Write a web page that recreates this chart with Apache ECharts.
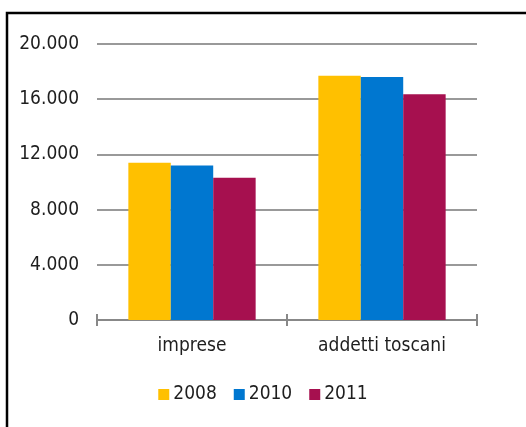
<!DOCTYPE html>
<html>
<head>
<meta charset="utf-8">
<script src="https://cdn.jsdelivr.net/npm/echarts@6/dist/echarts.min.js"></script>
<style>
  html, body { margin: 0; padding: 0; background: #fff; }
  #chart { width: 526px; height: 427px; }
</style>
</head>
<body>
<div id="chart"></div>
<script>
var categories = ['imprese', 'addetti toscani'];
var years = ['2008', '2010', '2011'];
var values2008 = [11400, 17700];
var values2010 = [11200, 17600];
var values2011 = [10300, 16350];
var colors = ['#FFC000', '#0077D0', '#A6104F'];

var font = '"DejaVu Sans Condensed", "Liberation Sans Narrow", "Liberation Sans", sans-serif';

function fmt(v) {
  return String(v).replace(/\B(?=(\d{3})+(?!\d))/g, '.');
}

var chart = echarts.init(document.getElementById('chart'));
var option = {
  animation: false,
  color: colors,
  textStyle: { fontFamily: font },
  graphic: [{
    type: 'rect',
    shape: { x: 7, y: 13, width: 700, height: 700 },
    style: { fill: 'none', stroke: '#000', lineWidth: 2.5 },
    silent: true
  }],
  grid: { left: 97, right: 49, top: 44, bottom: 107 },
  legend: {
    data: years,
    left: 'center',
    top: 380,
    icon: 'rect',
    itemWidth: 11,
    itemHeight: 11,
    itemGap: 17,
    textStyle: { fontFamily: font, fontSize: 19, color: '#1e1e1e', padding: [0, 0, 0, -1] }
  },
  xAxis: [{
    type: 'category',
    data: categories,
    axisLine: { lineStyle: { color: '#888', width: 2 } },
    axisTick: { show: true, length: 6, lineStyle: { color: '#888', width: 2 } },
    axisLabel: { fontFamily: font, fontSize: 19, color: '#1e1e1e', margin: 17 }
  }, {
    type: 'category',
    data: categories,
    position: 'bottom',
    axisLine: { show: false },
    axisTick: { show: true, inside: true, length: 6, lineStyle: { color: '#888', width: 2 } },
    axisLabel: { show: false }
  }],
  yAxis: {
    type: 'value',
    min: 0,
    max: 20000,
    interval: 4000,
    axisLine: { show: false },
    axisTick: { show: false },
    splitLine: { lineStyle: { color: '#999', width: 2 } },
    axisLabel: {
      fontFamily: font, fontSize: 19, color: '#1e1e1e', margin: 18,
      formatter: fmt
    }
  },
  series: [
    { name: years[0], type: 'bar', data: values2008, barGap: '0%', barCategoryGap: '33%' },
    { name: years[1], type: 'bar', data: values2010, barGap: '0%', barCategoryGap: '33%' },
    { name: years[2], type: 'bar', data: values2011, barGap: '0%', barCategoryGap: '33%' }
  ]
};
chart.setOption(option);
</script>
</body>
</html>
